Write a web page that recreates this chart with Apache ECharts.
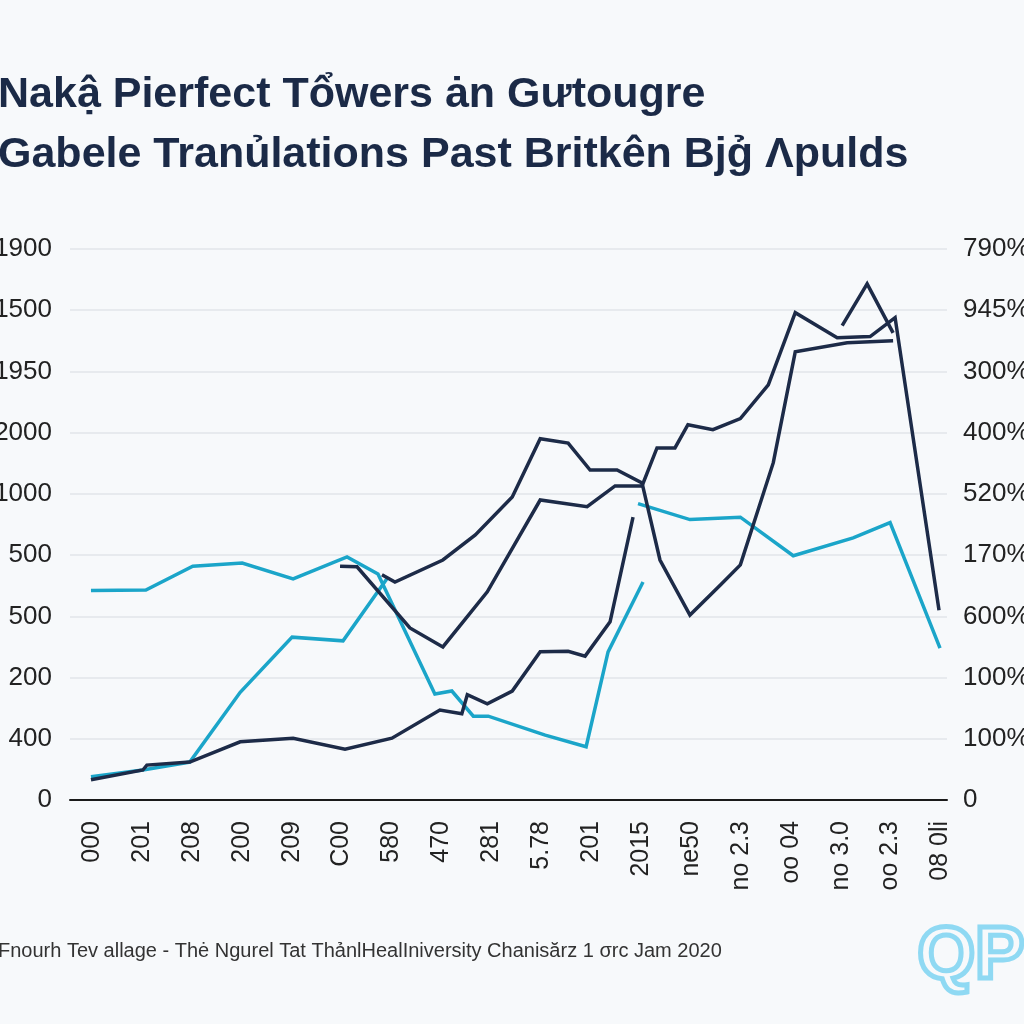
<!DOCTYPE html>
<html>
<head>
<meta charset="utf-8">
<script src="https://cdn.jsdelivr.net/npm/echarts@6/dist/echarts.min.js"></script>
<style>
html,body{margin:0;padding:0;background:#f7f9fb;}
#c{width:1024px;height:1024px;}
</style>
</head>
<body>
<div id="c"></div>
<script>
// ---- data ----
const titleLines = ["Nakậ Pierfect Tổwers ȧn Gưtougre", "Gabele Tranủlations Past Britkên Bjg̉ Λpulds"];
const footerText = "Fnourh Tev allage - Thė Ngurel Tat ThảnlHealIniversity Chanisărz 1 σrc Jam 2020";
const xLabels = ["000","201","208","200","209","C00","580","470","281","5.78","201","2015","ne50","no 2.3","oo 04","no 3.0","oo 2.3","08 0li"];
const leftLabels = ["0","400","200","500","500","1000","2000","1950","1500","1900"];
const rightLabels = ["0","100%","100%","600%","170%","520%","400%","300%","945%","790%"];

const navyLow = [[-0.02,0.33],[1.02,0.49],[1.10,0.57],[1.96,0.62],[2.97,0.95],[4.03,1.01],[5.07,0.83],[6.01,1.01],[6.97,1.47],[7.41,1.41],[7.52,1.72],[7.92,1.57],[8.42,1.78],[8.98,2.42],[9.54,2.43],[9.88,2.35],[10.38,2.91],[10.84,4.62]];
const navyMid = [[4.97,3.82],[5.31,3.81],[6.37,2.81],[7.03,2.50],[7.92,3.40],[8.98,4.90],[9.92,4.79],[10.48,5.13],[11.02,5.13],[11.32,5.75],[11.68,5.75],[11.94,6.13],[12.44,6.05],[12.99,6.23],[13.55,6.78],[14.09,7.96],[14.93,7.55],[15.59,7.57],[16.09,7.88],[16.97,3.10]];
const navyHigh = [[5.81,3.68],[6.07,3.56],[7.03,3.92],[7.68,4.33],[8.42,4.95],[8.98,5.90],[9.54,5.83],[9.98,5.39],[10.52,5.39],[11.02,5.18],[11.38,3.92],[11.98,3.02],[12.59,3.51],[12.99,3.84],[13.65,5.51],[14.09,7.32],[15.13,7.47],[16.05,7.50]];
const navySpike = [[15.03,7.75],[15.53,8.43],[16.05,7.63]];
const cyanTop = [[-0.02,3.42],[1.08,3.43],[2.02,3.82],[3.01,3.87],[4.03,3.61],[5.11,3.97],[5.73,3.69],[6.87,1.73],[7.21,1.78],[7.64,1.37],[7.94,1.37],[9.08,1.06],[9.90,0.87],[10.34,2.42],[11.04,3.56]];
const cyanRise = [[-0.02,0.38],[1.02,0.49],[1.96,0.62],[2.97,1.76],[4.01,2.66],[5.03,2.60],[5.93,3.64]];
const cyanRight = [[10.94,4.84],[11.98,4.58],[12.99,4.62],[14.05,3.99],[15.25,4.28],[15.99,4.53],[16.99,2.48]];

const NAVY = "#1d2b48", CYAN = "#1ba5c9";
function line(data, color) {
  return {type:"line", data:data, symbol:"none", smooth:false,
    lineStyle:{color:color, width:3.5, join:"miter"}, itemStyle:{color:color}};
}

const chart = echarts.init(document.getElementById("c"));
chart.setOption({
  backgroundColor:"#f7f9fb",
  animation:false,
  grid:{left:70, right:77, top:249, bottom:224, containLabel:false, outerBoundsMode:"none"},
  xAxis:{type:"value", min:-0.44, max:17.13,
    axisLine:{show:true, onZero:false, lineStyle:{color:"#1a1a1a", width:2}},
    axisTick:{show:false}, splitLine:{show:false},
    axisLabel:{customValues:xLabels.map((_,i)=>i), rotate:90, margin:21,
      fontFamily:"Liberation Sans", fontSize:25, color:"#222",
      formatter:v=>xLabels[Math.round(v)]}},
  yAxis:[
    {type:"value", min:0, max:9, interval:1, position:"left",
      axisLine:{show:false}, axisTick:{show:false},
      splitLine:{show:true, lineStyle:{color:"#e2e5ea", width:1.5}},
      axisLabel:{margin:18, fontFamily:"Liberation Sans", fontSize:26, color:"#222",
        formatter:v=>leftLabels[Math.round(v)]}},
    {type:"value", min:0, max:9, interval:1, position:"right",
      axisLine:{show:false}, axisTick:{show:false}, splitLine:{show:false},
      axisLabel:{margin:16, fontFamily:"Liberation Sans", fontSize:26, color:"#222",
        formatter:v=>rightLabels[Math.round(v)]}}
  ],
  series:[
    line(cyanTop, CYAN), line(cyanRise, CYAN), line(cyanRight, CYAN),
    line(navyLow, NAVY), line(navyMid, NAVY), line(navyHigh, NAVY), line(navySpike, NAVY)
  ],
  graphic:[
    {type:"text", left:-2, top:74, style:{text:titleLines[0], fontFamily:"Liberation Sans", fontWeight:"bold", fontSize:43, fill:"#1b2a47"}},
    {type:"text", left:-2, top:134, style:{text:titleLines[1], fontFamily:"Liberation Sans", fontWeight:"bold", fontSize:43, fill:"#1b2a47"}},
    {type:"text", left:-2, top:941, style:{text:footerText, fontFamily:"Liberation Sans Narrow, Liberation Sans", fontSize:20, fill:"#333"}},
    {type:"text", left:915, top:918, style:{text:"QP", fontFamily:"Liberation Sans", fontWeight:"bold", fontSize:74, fill:"rgba(0,0,0,0)", stroke:"#8fd9f3", lineWidth:5}}
  ]
});
</script>
</body>
</html>
